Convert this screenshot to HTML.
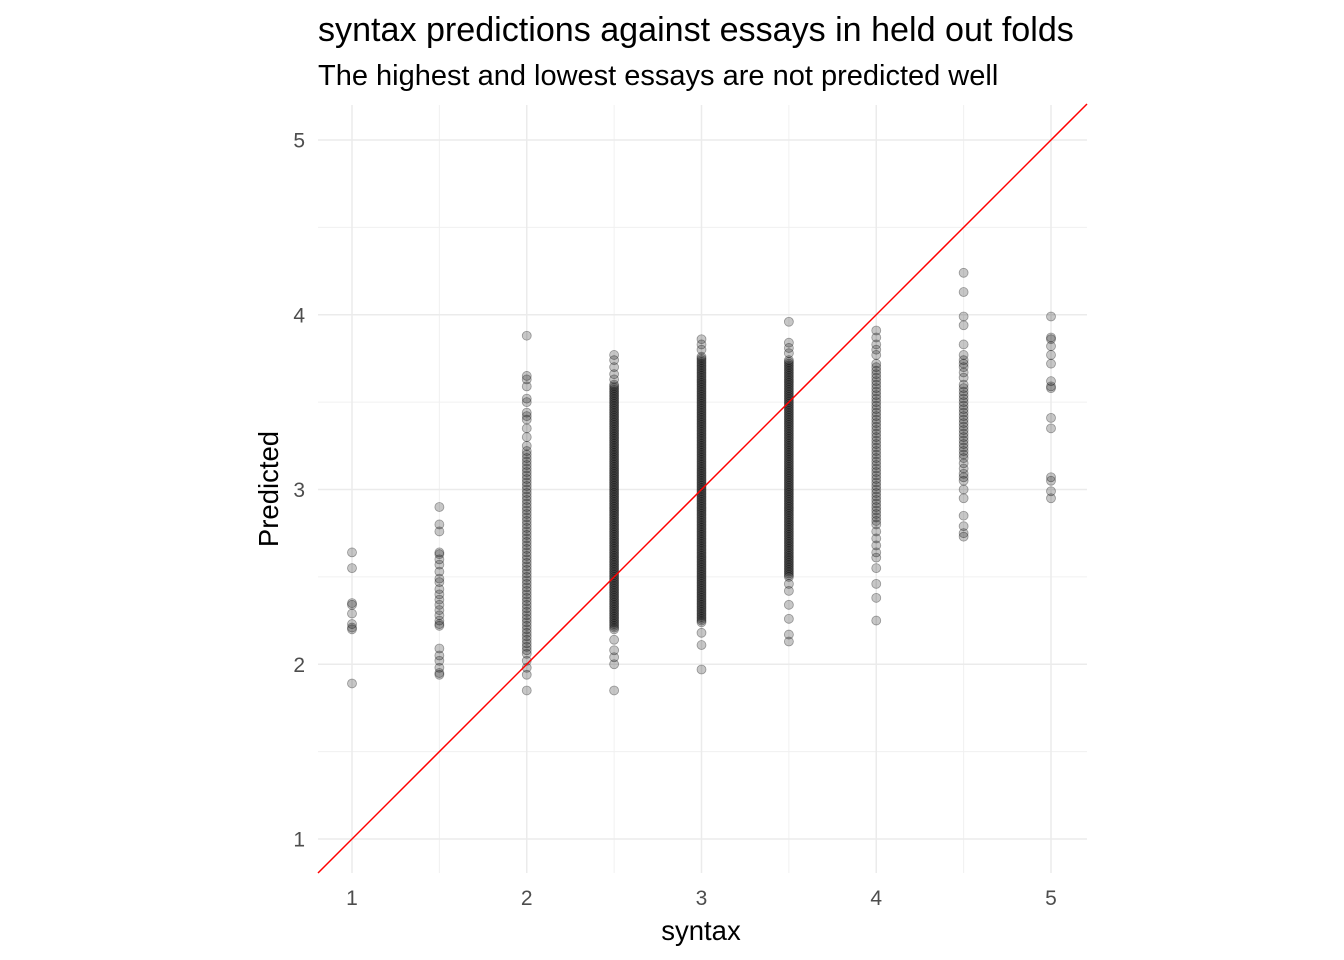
<!DOCTYPE html>
<html><head><meta charset="utf-8"><style>
html,body{margin:0;padding:0;background:#fff;}
svg{display:block;font-family:"Liberation Sans",Arial,sans-serif;}
</style></head><body>
<svg id="chart" width="1344" height="960" viewBox="0 0 1344 960">
<rect width="1344" height="960" fill="#fff"/>
<text x="318" y="41" font-size="34.1" fill="#000">syntax predictions against essays in held out folds</text>
<text x="318" y="85" font-size="29" fill="#000">The highest and lowest essays are not predicted well</text>
<g id="grid"></g>
<g id="points"></g>
<g id="ref"></g>
<g id="axes"></g>
<text x="701" y="940" font-size="27.5" text-anchor="middle" fill="#000">syntax</text>
<text transform="translate(278,489) rotate(-90)" font-size="27.5" text-anchor="middle" fill="#000">Predicted</text>
</svg>
<script>
const xTicks = [1, 2, 3, 4, 5];
const yTicks = [1, 2, 3, 4, 5];
const xMinor = [1.5, 2.5, 3.5, 4.5];
const yMinor = [1.5, 2.5, 3.5, 4.5];
const syntaxLevels = [1, 1.5, 2, 2.5, 3, 3.5, 4, 4.5, 5];
const pred10 = "2.64 2.55 2.35 2.34 2.29 2.23 2.21 2.20 1.89";
const pred15 = "2.90 2.80 2.76 2.64 2.63 2.60 2.57 2.53 2.49 2.47 2.43 2.40 2.37 2.34 2.31 2.28 2.25 2.23 2.22 2.09 2.05 2.02 1.98 1.95 1.94";
const pred20 = "3.88 3.65 3.63 3.59 3.52 3.50 3.44 3.42 3.40 3.35 3.30 3.25 2.06 2.08 2.10 2.12 2.14 2.16 2.18 2.20 2.22 2.24 2.26 2.28 2.30 2.32 2.34 2.36 2.38 2.40 2.42 2.44 2.46 2.48 2.50 2.52 2.54 2.56 2.58 2.60 2.62 2.64 2.66 2.68 2.70 2.72 2.74 2.76 2.78 2.80 2.82 2.84 2.86 2.88 2.90 2.92 2.94 2.96 2.98 3.00 3.02 3.04 3.06 3.08 3.10 3.12 3.14 3.16 3.18 3.20 3.22 2.02 1.98 1.94 1.85";
const pred25 = "3.77 3.74 3.70 3.66 3.63 2.20 2.21 2.22 2.23 2.24 2.25 2.26 2.27 2.28 2.29 2.30 2.31 2.32 2.33 2.34 2.35 2.36 2.37 2.38 2.39 2.40 2.41 2.42 2.43 2.44 2.45 2.46 2.47 2.48 2.49 2.50 2.51 2.52 2.53 2.54 2.55 2.56 2.57 2.58 2.59 2.60 2.61 2.62 2.63 2.64 2.65 2.66 2.67 2.68 2.69 2.70 2.71 2.72 2.73 2.74 2.75 2.76 2.77 2.78 2.79 2.80 2.81 2.82 2.83 2.84 2.85 2.86 2.87 2.88 2.89 2.90 2.91 2.92 2.93 2.94 2.95 2.96 2.97 2.98 2.99 3.00 3.01 3.02 3.03 3.04 3.05 3.06 3.07 3.08 3.09 3.10 3.11 3.12 3.13 3.14 3.15 3.16 3.17 3.18 3.19 3.20 3.21 3.22 3.23 3.24 3.25 3.26 3.27 3.28 3.29 3.30 3.31 3.32 3.33 3.34 3.35 3.36 3.37 3.38 3.39 3.40 3.41 3.42 3.43 3.44 3.45 3.46 3.47 3.48 3.49 3.50 3.51 3.52 3.53 3.54 3.55 3.56 3.57 3.58 3.59 3.60 2.14 2.08 2.04 2.00 1.85";
const pred30 = "3.86 3.83 3.80 2.24 2.25 2.26 2.27 2.28 2.29 2.30 2.31 2.32 2.33 2.34 2.35 2.36 2.37 2.38 2.39 2.40 2.41 2.42 2.43 2.44 2.45 2.46 2.47 2.48 2.49 2.50 2.51 2.52 2.53 2.54 2.55 2.56 2.57 2.58 2.59 2.60 2.61 2.62 2.63 2.64 2.65 2.66 2.67 2.68 2.69 2.70 2.71 2.72 2.73 2.74 2.75 2.76 2.77 2.78 2.79 2.80 2.81 2.82 2.83 2.84 2.85 2.86 2.87 2.88 2.89 2.90 2.91 2.92 2.93 2.94 2.95 2.96 2.97 2.98 2.99 3.00 3.01 3.02 3.03 3.04 3.05 3.06 3.07 3.08 3.09 3.10 3.11 3.12 3.13 3.14 3.15 3.16 3.17 3.18 3.19 3.20 3.21 3.22 3.23 3.24 3.25 3.26 3.27 3.28 3.29 3.30 3.31 3.32 3.33 3.34 3.35 3.36 3.37 3.38 3.39 3.40 3.41 3.42 3.43 3.44 3.45 3.46 3.47 3.48 3.49 3.50 3.51 3.52 3.53 3.54 3.55 3.56 3.57 3.58 3.59 3.60 3.61 3.62 3.63 3.64 3.65 3.66 3.67 3.68 3.69 3.70 3.71 3.72 3.73 3.74 3.75 3.76 2.18 2.11 1.97";
const pred35 = "3.96 3.84 3.81 3.78 2.50 2.51 2.52 2.53 2.54 2.55 2.56 2.57 2.58 2.59 2.60 2.61 2.62 2.63 2.64 2.65 2.66 2.67 2.68 2.69 2.70 2.71 2.72 2.73 2.74 2.75 2.76 2.77 2.78 2.79 2.80 2.81 2.82 2.83 2.84 2.85 2.86 2.87 2.88 2.89 2.90 2.91 2.92 2.93 2.94 2.95 2.96 2.97 2.98 2.99 3.00 3.01 3.02 3.03 3.04 3.05 3.06 3.07 3.08 3.09 3.10 3.11 3.12 3.13 3.14 3.15 3.16 3.17 3.18 3.19 3.20 3.21 3.22 3.23 3.24 3.25 3.26 3.27 3.28 3.29 3.30 3.31 3.32 3.33 3.34 3.35 3.36 3.37 3.38 3.39 3.40 3.41 3.42 3.43 3.44 3.45 3.46 3.47 3.48 3.49 3.50 3.51 3.52 3.53 3.54 3.55 3.56 3.57 3.58 3.59 3.60 3.61 3.62 3.63 3.64 3.65 3.66 3.67 3.68 3.69 3.70 3.71 3.72 3.73 3.74 2.46 2.42 2.34 2.26 2.17 2.13";
const pred40 = "3.91 3.87 3.83 3.80 3.77 2.80 2.82 2.84 2.86 2.88 2.90 2.92 2.94 2.96 2.98 3.00 3.02 3.04 3.06 3.08 3.10 3.12 3.14 3.16 3.18 3.20 3.22 3.24 3.26 3.28 3.30 3.32 3.34 3.36 3.38 3.40 3.42 3.44 3.46 3.48 3.50 3.52 3.54 3.56 3.58 3.60 3.62 3.64 3.66 3.68 3.70 3.72 2.76 2.72 2.68 2.64 2.61 2.55 2.46 2.38 2.25";
const pred45 = "4.24 4.13 3.99 3.94 3.83 3.77 3.74 3.72 3.70 3.67 3.64 3.60 3.58 3.56 3.54 3.52 3.50 3.48 3.46 3.44 3.42 3.40 3.38 3.36 3.34 3.32 3.30 3.28 3.26 3.24 3.22 3.20 3.18 3.15 3.12 3.09 3.07 3.05 3.00 2.95 2.85 2.79 2.75 2.73";
const pred50 = "3.99 3.87 3.86 3.82 3.77 3.72 3.62 3.59 3.58 3.41 3.35 3.07 3.05 2.99 2.95";
const predictedByLevel = [pred10, pred15, pred20, pred25, pred30, pred35, pred40, pred45, pred50];

const NS = "http://www.w3.org/2000/svg";
const L = 318, R = 1087, T = 105, B = 873;
function xs(v){ return 352 + (v - 1) * 174.75; }
function ys(v){ return 839 - (v - 1) * 174.75; }
function mk(tag, attrs, parent){ const e = document.createElementNS(NS, tag); for (const k in attrs) e.setAttribute(k, attrs[k]); parent.appendChild(e); return e; }

const grid = document.getElementById('grid');
yMinor.forEach(v => {
  const l = mk('line', {x1: L, x2: R, y1: ys(v), y2: ys(v), stroke: '#f0f0f0', 'stroke-width': 1}, grid);
  
  
});
xMinor.forEach(v => {
  const l = mk('line', {x1: xs(v), x2: xs(v), y1: T, y2: B, stroke: '#f0f0f0', 'stroke-width': 1}, grid);
  
  
});
yTicks.forEach(v => {
  const l = mk('line', {x1: L, x2: R, y1: ys(v), y2: ys(v), stroke: '#ebebeb', 'stroke-width': 1.5}, grid);
  
  
});
xTicks.forEach(v => {
  const l = mk('line', {x1: xs(v), x2: xs(v), y1: T, y2: B, stroke: '#ebebeb', 'stroke-width': 1.5}, grid);
  
  
});

const pts = document.getElementById('points');
syntaxLevels.forEach((lvl, i) => {
  predictedByLevel[i].trim().split(/\s+/).map(Number).forEach(p => {
    const c = mk('circle', {cx: xs(lvl), cy: ys(p), r: 4.5, fill: '#000', 'fill-opacity': 0.22, stroke: '#000', 'stroke-opacity': 0.35, 'stroke-width': 0.8}, pts);
    
    
  });
});

const ref = document.getElementById('ref');
const lo = 1 + (L - 352) / 174.75, hi = 1 + (R - 352) / 174.75;
const rl = mk('line', {x1: xs(lo), y1: ys(lo), x2: xs(hi), y2: ys(hi), stroke: '#ff0000', 'stroke-width': 1.5}, ref);



const axes = document.getElementById('axes');
xTicks.forEach(v => {
  const t = mk('text', {x: xs(v), y: 905, 'font-size': 21, 'text-anchor': 'middle', fill: '#4d4d4d'}, axes);
  t.textContent = v;
  
  
});
yTicks.forEach(v => {
  const t = mk('text', {x: 305, y: ys(v) + 7.5, 'font-size': 21, 'text-anchor': 'end', fill: '#4d4d4d'}, axes);
  t.textContent = v;
  
  
});
</script>
</body></html>
